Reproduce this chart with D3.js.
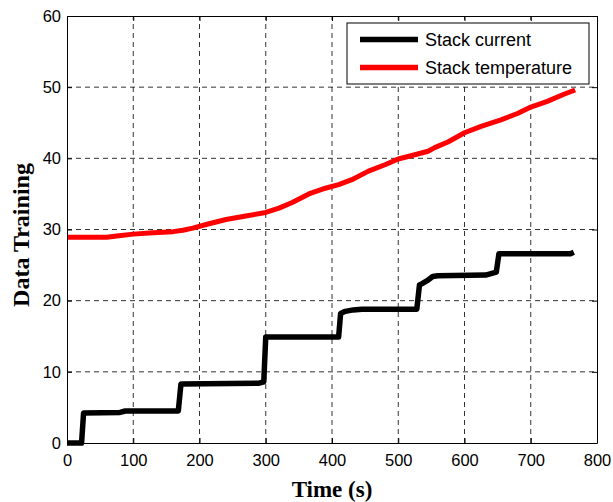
<!DOCTYPE html>
<html>
<head>
<meta charset="utf-8">
<script src="https://cdn.jsdelivr.net/npm/d3@7"></script>
<style>
  body { margin: 0; background: #fff; }
  .tick text { font-family: "Liberation Sans", Arial, sans-serif; font-size: 16.5px; fill: #000; }
</style>
</head>
<body>
<svg class="chart"></svg>
<script>
// chart data
var currentTime = [0, 22, 25, 80, 88, 168, 172, 290, 297, 300, 410, 413, 420, 432, 445, 528, 532, 536, 545, 552, 560, 632, 640, 648, 652, 760, 765];
var currentVal  = [0, 0, 4.2, 4.3, 4.5, 4.5, 8.3, 8.4, 8.6, 14.9, 14.9, 18.2, 18.5, 18.7, 18.8, 18.8, 22.2, 22.4, 22.9, 23.4, 23.5, 23.6, 23.8, 24.0, 26.6, 26.6, 26.8];
var tempTime = [0, 30, 60, 75, 100, 130, 160, 175, 190, 210, 240, 270, 300, 320, 340, 365, 390, 410, 430, 455, 480, 500, 525, 545, 555, 575, 600, 625, 655, 680, 700, 725, 750, 767];
var tempVal  = [28.9, 28.9, 28.9, 29.1, 29.35, 29.55, 29.7, 29.9, 30.2, 30.7, 31.4, 31.9, 32.4, 33.0, 33.8, 35.0, 35.8, 36.3, 37.0, 38.2, 39.1, 39.9, 40.5, 41.0, 41.5, 42.3, 43.6, 44.5, 45.4, 46.3, 47.2, 48.0, 49.0, 49.6];
var xTicks = [0, 100, 200, 300, 400, 500, 600, 700, 800];
var yTicks = [0, 10, 20, 30, 40, 50, 60];
var seriesNames = ["Stack current", "Stack temperature"];
var seriesColors = ["#000000", "#ff0000"];

var width = 613, height = 502;
var margin = {top: 16, right: 16, bottom: 59, left: 67};

var svg = d3.select(".chart")
	.attr("width", width)
	.attr("height", height);

var x = d3.scaleLinear()
	.domain([0, 800])
	.range([margin.left, width - margin.right]);

var y = d3.scaleLinear()
	.domain([0, 60])
	.range([height - margin.bottom, margin.top]);

// dashed grid
var grid = svg.append("g")
	.attr("stroke", "#000")
	.attr("stroke-width", 1)
	.attr("stroke-dasharray", "5,4")
	.attr("stroke-opacity", 0.8);
grid.selectAll(".gx").data(xTicks.slice(1, -1)).enter().append("line")
	.attr("x1", d => x(d)).attr("x2", d => x(d))
	.attr("y1", y(0)).attr("y2", y(60));
grid.selectAll(".gy").data(yTicks.slice(1, -1)).enter().append("line")
	.attr("x1", x(0)).attr("x2", x(800))
	.attr("y1", d => y(d)).attr("y2", d => y(d));

// lines
var currentData = currentTime.map((t, i) => [t, currentVal[i]]);
var tempData = tempTime.map((t, i) => [t, tempVal[i]]);

var line = d3.line()
	.x(d => x(d[0]))
	.y(d => y(d[1]));

svg.append("path")
	.datum(tempData)
	.attr("fill", "none")
	.attr("stroke", seriesColors[1])
	.attr("stroke-width", 5)
	.attr("stroke-linejoin", "round")
	.attr("d", line);

svg.append("path")
	.datum(currentData)
	.attr("fill", "none")
	.attr("stroke", seriesColors[0])
	.attr("stroke-width", 5.5)
	.attr("stroke-linejoin", "round")
	.attr("d", line);

// axes, ticks inside (matlab style)
svg.append("g")
	.attr("transform", `translate(0,${y(0)})`)
	.call(d3.axisBottom(x).tickValues(xTicks).tickSizeInner(-5).tickSizeOuter(0).tickPadding(11))
	.call(g => g.selectAll("line,path").attr("stroke", "#000"));

svg.append("g")
	.attr("transform", `translate(0,${y(60)})`)
	.call(d3.axisTop(x).tickValues(xTicks).tickSizeInner(-5).tickSizeOuter(0).tickFormat(""))
	.call(g => g.selectAll("line,path").attr("stroke", "#000"));

svg.append("g")
	.attr("transform", `translate(${x(0)},0)`)
	.call(d3.axisLeft(y).tickValues(yTicks).tickSizeInner(-5).tickSizeOuter(0).tickPadding(6))
	.call(g => g.selectAll("line,path").attr("stroke", "#000"));

svg.append("g")
	.attr("transform", `translate(${x(800)},0)`)
	.call(d3.axisRight(y).tickValues(yTicks).tickSizeInner(-5).tickSizeOuter(0).tickFormat(""))
	.call(g => g.selectAll("line,path").attr("stroke", "#000"));

// axis titles
svg.append("text")
	.attr("x", (x(0) + x(800)) / 2)
	.attr("y", 497)
	.attr("text-anchor", "middle")
	.attr("font-family", "'Liberation Serif', 'Times New Roman', serif")
	.attr("font-weight", "bold")
	.attr("font-size", 23)
	.text("Time (s)");

svg.append("text")
	.attr("transform", `translate(29,235) rotate(-90)`)
	.attr("text-anchor", "middle")
	.attr("font-family", "'Liberation Serif', 'Times New Roman', serif")
	.attr("font-weight", "bold")
	.attr("font-size", 24)
	.text("Data Training");

// legend
var legend = svg.append("g").attr("transform", "translate(347,23)");
legend.append("rect")
	.attr("width", 242).attr("height", 61)
	.attr("fill", "#fff").attr("stroke", "#000").attr("stroke-width", 1);
var items = legend.selectAll(".item").data(seriesNames).enter().append("g")
	.attr("transform", (d, i) => `translate(0,${16.5 + i * 28})`);
items.append("line")
	.attr("x1", 13).attr("x2", 71)
	.attr("stroke", (d, i) => seriesColors[i])
	.attr("stroke-width", 5.5);
items.append("text")
	.attr("x", 78).attr("y", 6.5)
	.attr("font-family", "'Liberation Sans', Arial, sans-serif")
	.attr("font-size", 18)
	.text(d => d);
</script>
</body>
</html>
